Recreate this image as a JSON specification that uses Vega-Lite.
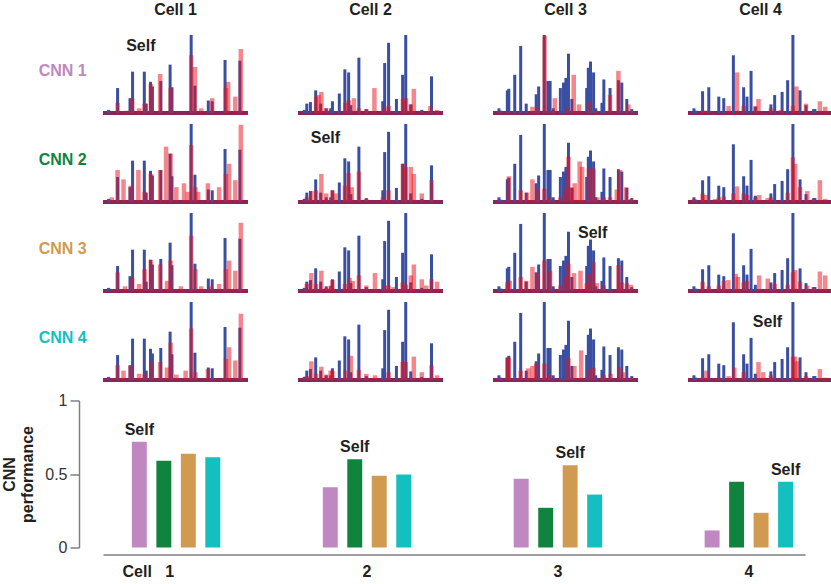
{
  "$schema": "https://vega.github.io/schema/vega-lite/v6.json",
  "background": "white",
  "padding": {"left": 1, "top": 2, "right": 0, "bottom": 5},
  "config": {"font": "Liberation Sans", "view": {"stroke": null}},
  "datasets": {
    "traces": [
      {"c":1,"r":[1],"s":"lab","lab":"CNN 1","k":1,"t":-15.8,"v":0.54},{"c":1,"r":[2],"s":"lab","lab":"CNN 2","k":2,"t":-15.8,"v":0.54},{"c":1,"r":[3],"s":"lab","lab":"CNN 3","k":3,"t":-15.8,"v":0.54},{"c":1,"r":[4],"s":"lab","lab":"CNN 4","k":4,"t":-15.8,"v":0.54},
      {"c":1,"r":[1,2,3,4],"s":"b","t":0.5,"v":0.04},{"c":1,"r":[1,2,3,4],"s":"b","t":7.1,"v":0.32},{"c":1,"r":[1,2,3,4],"s":"b","t":16.3,"v":0.19},{"c":1,"r":[1,2,3,4],"s":"b","t":18.2,"v":0.53},{"c":1,"r":[1,2,3,4],"s":"b","t":26.9,"v":0.53},{"c":1,"r":[1,2,3,4],"s":"b","t":28.3,"v":0.12},{"c":1,"r":[1,2,3,4],"s":"b","t":31.5,"v":0.40},{"c":1,"r":[1,2,3,4],"s":"b","t":32.9,"v":0.34},{"c":1,"r":[1,2,3,4],"s":"b","t":39.1,"v":0.41},{"c":1,"r":[1,2,3,4],"s":"b","t":46.0,"v":0.62},{"c":1,"r":[1,2,3,4],"s":"b","t":47.4,"v":0.33},{"c":1,"r":[1,2,3,4],"s":"b","t":61.6,"v":1.0},{"c":1,"r":[1,2,3,4],"s":"b","t":64.4,"v":0.35},{"c":1,"r":[1,2,3,4],"s":"b","t":74.3,"v":0.16},{"c":1,"r":[1,2,3,4],"s":"b","t":77.2,"v":0.15},{"c":1,"r":[1,2,3,4],"s":"b","t":86.7,"v":0.68},{"c":1,"r":[1,2,3,4],"s":"b","t":97.7,"v":0.67},
      {"c":2,"r":[1,2,3,4],"s":"b","t":0.9,"v":0.04},{"c":2,"r":[1,2,3,4],"s":"b","t":2.8,"v":0.12},{"c":2,"r":[1,2,3,4],"s":"b","t":5.5,"v":0.14},{"c":2,"r":[1,2,3,4],"s":"b","t":9.4,"v":0.29},{"c":2,"r":[1,2,3,4],"s":"b","t":13.1,"v":0.12},{"c":2,"r":[1,2,3,4],"s":"b","t":17.2,"v":0.06},{"c":2,"r":[1,2,3,4],"s":"b","t":20.5,"v":0.06},{"c":2,"r":[1,2,3,4],"s":"b","t":21.8,"v":0.15},{"c":2,"r":[1,2,3,4],"s":"b","t":26.9,"v":0.25},{"c":2,"r":[1,2,3,4],"s":"b","t":31.0,"v":0.56},{"c":2,"r":[1,2,3,4],"s":"b","t":33.8,"v":0.52},{"c":2,"r":[1,2,3,4],"s":"b","t":35.4,"v":0.10},{"c":2,"r":[1,2,3,4],"s":"b","t":41.4,"v":0.71},{"c":2,"r":[1,2,3,4],"s":"b","t":46.9,"v":0.05},{"c":2,"r":[1,2,3,4],"s":"b","t":59.1,"v":0.15},{"c":2,"r":[1,2,3,4],"s":"b","t":60.5,"v":0.64},{"c":2,"r":[1,2,3,4],"s":"b","t":63.4,"v":0.90},{"c":2,"r":[1,2,3,4],"s":"b","t":69.2,"v":0.18},{"c":2,"r":[1,2,3,4],"s":"b","t":73.8,"v":0.49},{"c":2,"r":[1,2,3,4],"s":"b","t":76.1,"v":1.0},{"c":2,"r":[1,2,3,4],"s":"b","t":79.8,"v":0.11},{"c":2,"r":[1,2,3,4],"s":"b","t":88.0,"v":0.04},{"c":2,"r":[1,2,3,4],"s":"b","t":95.2,"v":0.47},
      {"c":3,"r":[1,2,3,4],"s":"b","t":0.7,"v":0.06},{"c":3,"r":[1,2,3,4],"s":"b","t":2.1,"v":0.03},{"c":3,"r":[1,2,3,4],"s":"b","t":6.9,"v":0.29},{"c":3,"r":[1,2,3,4],"s":"b","t":8.0,"v":0.31},{"c":3,"r":[1,2,3,4],"s":"b","t":12.4,"v":0.49},{"c":3,"r":[1,2,3,4],"s":"b","t":16.8,"v":0.86},{"c":3,"r":[1,2,3,4],"s":"b","t":20.9,"v":0.12},{"c":3,"r":[1,2,3,4],"s":"b","t":28.3,"v":0.24},{"c":3,"r":[1,2,3,4],"s":"b","t":30.1,"v":0.34},{"c":3,"r":[1,2,3,4],"s":"b","t":34.3,"v":1.0},{"c":3,"r":[1,2,3,4],"s":"b","t":37.0,"v":0.41},{"c":3,"r":[1,2,3,4],"s":"b","t":38.6,"v":0.41},{"c":3,"r":[1,2,3,4],"s":"b","t":40.9,"v":0.06},{"c":3,"r":[1,2,3,4],"s":"b","t":46.2,"v":0.32},{"c":3,"r":[1,2,3,4],"s":"b","t":48.5,"v":0.39},{"c":3,"r":[1,2,3,4],"s":"b","t":50.3,"v":0.45},{"c":3,"r":[1,2,3,4],"s":"b","t":52.2,"v":0.76},{"c":3,"r":[1,2,3,4],"s":"b","t":54.7,"v":0.18},{"c":3,"r":[1,2,3,4],"s":"b","t":65.7,"v":0.32},{"c":3,"r":[1,2,3,4],"s":"b","t":66.9,"v":0.58},{"c":3,"r":[1,2,3,4],"s":"b","t":68.5,"v":0.66},{"c":3,"r":[1,2,3,4],"s":"b","t":70.8,"v":0.52},{"c":3,"r":[1,2,3,4],"s":"b","t":72.4,"v":0.06},{"c":3,"r":[1,2,3,4],"s":"b","t":77.0,"v":0.13},{"c":3,"r":[1,2,3,4],"s":"b","t":78.4,"v":0.43},{"c":3,"r":[1,2,3,4],"s":"b","t":83.0,"v":0.32},{"c":3,"r":[1,2,3,4],"s":"b","t":89.2,"v":0.42},{"c":3,"r":[1,2,3,4],"s":"b","t":91.7,"v":0.39},{"c":3,"r":[1,2,3,4],"s":"b","t":95.4,"v":0.18},{"c":3,"r":[1,2,3,4],"s":"b","t":99.1,"v":0.05},
      {"c":4,"r":[1,2,3,4],"s":"b","t":0.7,"v":0.06},{"c":4,"r":[1,2,3,4],"s":"b","t":2.1,"v":0.03},{"c":4,"r":[1,2,3,4],"s":"b","t":7.1,"v":0.28},{"c":4,"r":[1,2,3,4],"s":"b","t":11.7,"v":0.33},{"c":4,"r":[1,2,3,4],"s":"b","t":19.1,"v":0.21},{"c":4,"r":[1,2,3,4],"s":"b","t":22.8,"v":0.19},{"c":4,"r":[1,2,3,4],"s":"b","t":29.9,"v":0.74},{"c":4,"r":[1,2,3,4],"s":"b","t":37.5,"v":0.33},{"c":4,"r":[1,2,3,4],"s":"b","t":40.0,"v":0.21},{"c":4,"r":[1,2,3,4],"s":"b","t":43.0,"v":0.54},{"c":4,"r":[1,2,3,4],"s":"b","t":46.2,"v":0.08},{"c":4,"r":[1,2,3,4],"s":"b","t":57.7,"v":0.11},{"c":4,"r":[1,2,3,4],"s":"b","t":60.5,"v":0.23},{"c":4,"r":[1,2,3,4],"s":"b","t":66.0,"v":0.27},{"c":4,"r":[1,2,3,4],"s":"b","t":70.1,"v":0.42},{"c":4,"r":[1,2,3,4],"s":"b","t":74.0,"v":1.0},{"c":4,"r":[1,2,3,4],"s":"b","t":79.3,"v":0.29},{"c":4,"r":[1,2,3,4],"s":"b","t":83.7,"v":0.10},{"c":4,"r":[1,2,3,4],"s":"b","t":89.4,"v":0.05},{"c":4,"r":[1,2,3,4],"s":"b","t":90.3,"v":0.05},

      {"c":1,"r":[1],"s":"r","t":7.1,"v":0.13},{"c":1,"r":[1],"s":"r","t":13.8,"v":0.03},{"c":1,"r":[1],"s":"r","t":17.9,"v":0.19},{"c":1,"r":[1],"s":"r","t":23.0,"v":0.06},{"c":1,"r":[1],"s":"r","t":27.1,"v":0.12},{"c":1,"r":[1],"s":"r","t":31.7,"v":0.37},{"c":1,"r":[1],"s":"r","t":38.6,"v":0.50},{"c":1,"r":[1],"s":"r","t":46.4,"v":0.32},{"c":1,"r":[1],"s":"r","t":61.6,"v":0.74},{"c":1,"r":[1],"s":"r","t":64.4,"v":0.59},{"c":1,"r":[1],"s":"r","t":69.0,"v":0.06},{"c":1,"r":[1],"s":"r","t":77.2,"v":0.19},{"c":1,"r":[1],"s":"r","t":87.4,"v":0.32},{"c":1,"r":[1],"s":"r","t":89.0,"v":0.40},{"c":1,"r":[1],"s":"r","t":94.3,"v":0.21},{"c":1,"r":[1],"s":"r","t":98.4,"v":0.82},
      {"c":1,"r":[2],"s":"r","t":2.8,"v":0.06},{"c":1,"r":[2],"s":"r","t":7.1,"v":0.41},{"c":1,"r":[2],"s":"r","t":11.5,"v":0.29},{"c":1,"r":[2],"s":"r","t":16.8,"v":0.21},{"c":1,"r":[2],"s":"r","t":22.5,"v":0.41},{"c":1,"r":[2],"s":"r","t":27.1,"v":0.13},{"c":1,"r":[2],"s":"r","t":31.7,"v":0.36},{"c":1,"r":[2],"s":"r","t":38.6,"v":0.41},{"c":1,"r":[2],"s":"r","t":43.0,"v":0.71},{"c":1,"r":[2],"s":"r","t":46.4,"v":0.62},{"c":1,"r":[2],"s":"r","t":50.6,"v":0.19},{"c":1,"r":[2],"s":"r","t":56.3,"v":0.24},{"c":1,"r":[2],"s":"r","t":59.1,"v":0.13},{"c":1,"r":[2],"s":"r","t":61.6,"v":0.73},{"c":1,"r":[2],"s":"r","t":64.8,"v":0.19},{"c":1,"r":[2],"s":"r","t":66.7,"v":0.13},{"c":1,"r":[2],"s":"r","t":74.0,"v":0.24},{"c":1,"r":[2],"s":"r","t":82.3,"v":0.19},{"c":1,"r":[2],"s":"r","t":87.4,"v":0.36},{"c":1,"r":[2],"s":"r","t":89.7,"v":0.49},{"c":1,"r":[2],"s":"r","t":94.3,"v":0.28},{"c":1,"r":[2],"s":"r","t":98.4,"v":0.99},
      {"c":1,"r":[3],"s":"r","t":7.1,"v":0.24},{"c":1,"r":[3],"s":"r","t":12.6,"v":0.06},{"c":1,"r":[3],"s":"r","t":17.9,"v":0.17},{"c":1,"r":[3],"s":"r","t":23.0,"v":0.09},{"c":1,"r":[3],"s":"r","t":27.1,"v":0.28},{"c":1,"r":[3],"s":"r","t":31.7,"v":0.40},{"c":1,"r":[3],"s":"r","t":38.6,"v":0.34},{"c":1,"r":[3],"s":"r","t":43.7,"v":0.13},{"c":1,"r":[3],"s":"r","t":46.4,"v":0.39},{"c":1,"r":[3],"s":"r","t":54.0,"v":0.06},{"c":1,"r":[3],"s":"r","t":61.6,"v":0.71},{"c":1,"r":[3],"s":"r","t":64.8,"v":0.28},{"c":1,"r":[3],"s":"r","t":69.0,"v":0.06},{"c":1,"r":[3],"s":"r","t":75.9,"v":0.06},{"c":1,"r":[3],"s":"r","t":82.3,"v":0.09},{"c":1,"r":[3],"s":"r","t":87.4,"v":0.28},{"c":1,"r":[3],"s":"r","t":89.7,"v":0.39},{"c":1,"r":[3],"s":"r","t":94.3,"v":0.26},{"c":1,"r":[3],"s":"r","t":98.4,"v":0.875},
      {"c":1,"r":[4],"s":"r","t":7.1,"v":0.19},{"c":1,"r":[4],"s":"r","t":11.5,"v":0.12},{"c":1,"r":[4],"s":"r","t":16.8,"v":0.18},{"c":1,"r":[4],"s":"r","t":23.0,"v":0.08},{"c":1,"r":[4],"s":"r","t":27.1,"v":0.08},{"c":1,"r":[4],"s":"r","t":32.2,"v":0.23},{"c":1,"r":[4],"s":"r","t":38.6,"v":0.23},{"c":1,"r":[4],"s":"r","t":43.7,"v":0.16},{"c":1,"r":[4],"s":"r","t":46.4,"v":0.48},{"c":1,"r":[4],"s":"r","t":50.6,"v":0.07},{"c":1,"r":[4],"s":"r","t":57.5,"v":0.12},{"c":1,"r":[4],"s":"r","t":61.6,"v":0.66},{"c":1,"r":[4],"s":"r","t":64.8,"v":0.10},{"c":1,"r":[4],"s":"r","t":74.0,"v":0.14},{"c":1,"r":[4],"s":"r","t":87.4,"v":0.27},{"c":1,"r":[4],"s":"r","t":89.7,"v":0.42},{"c":1,"r":[4],"s":"r","t":94.3,"v":0.25},{"c":1,"r":[4],"s":"r","t":98.4,"v":0.85},

      {"c":2,"r":[1],"s":"r","t":9.7,"v":0.21},{"c":2,"r":[1],"s":"r","t":11.5,"v":0.23},{"c":2,"r":[1],"s":"r","t":13.6,"v":0.27},{"c":2,"r":[1],"s":"r","t":17.2,"v":0.06},{"c":2,"r":[1],"s":"r","t":31.5,"v":0.13},{"c":2,"r":[1],"s":"r","t":33.8,"v":0.16},{"c":2,"r":[1],"s":"r","t":37.7,"v":0.19},{"c":2,"r":[1],"s":"r","t":41.4,"v":0.06},{"c":2,"r":[1],"s":"r","t":46.9,"v":0.05},{"c":2,"r":[1],"s":"r","t":52.9,"v":0.32},{"c":2,"r":[1],"s":"r","t":60.2,"v":0.06},{"c":2,"r":[1],"s":"r","t":63.4,"v":0.09},{"c":2,"r":[1],"s":"r","t":74.0,"v":0.18},{"c":2,"r":[1],"s":"r","t":76.3,"v":0.19},{"c":2,"r":[1],"s":"r","t":79.8,"v":0.11},{"c":2,"r":[1],"s":"r","t":82.1,"v":0.31},{"c":2,"r":[1],"s":"r","t":88.0,"v":0.03},{"c":2,"r":[1],"s":"r","t":94.3,"v":0.09},{"c":2,"r":[1],"s":"r","t":99.3,"v":0.04},
      {"c":2,"r":[2],"s":"r","t":2.8,"v":0.06},{"c":2,"r":[2],"s":"r","t":6.2,"v":0.14},{"c":2,"r":[2],"s":"r","t":9.7,"v":0.15},{"c":2,"r":[2],"s":"r","t":13.6,"v":0.36},{"c":2,"r":[2],"s":"r","t":17.2,"v":0.11},{"c":2,"r":[2],"s":"r","t":21.8,"v":0.15},{"c":2,"r":[2],"s":"r","t":24.1,"v":0.11},{"c":2,"r":[2],"s":"r","t":31.0,"v":0.21},{"c":2,"r":[2],"s":"r","t":33.8,"v":0.37},{"c":2,"r":[2],"s":"r","t":36.1,"v":0.19},{"c":2,"r":[2],"s":"r","t":41.4,"v":0.39},{"c":2,"r":[2],"s":"r","t":46.9,"v":0.04},{"c":2,"r":[2],"s":"r","t":59.1,"v":0.06},{"c":2,"r":[2],"s":"r","t":63.4,"v":0.15},{"c":2,"r":[2],"s":"r","t":74.0,"v":0.49},{"c":2,"r":[2],"s":"r","t":76.1,"v":0.45},{"c":2,"r":[2],"s":"r","t":79.8,"v":0.45},{"c":2,"r":[2],"s":"r","t":82.1,"v":0.36},{"c":2,"r":[2],"s":"r","t":88.0,"v":0.11},{"c":2,"r":[2],"s":"r","t":95.2,"v":0.28},
      {"c":2,"r":[3],"s":"r","t":2.8,"v":0.09},{"c":2,"r":[3],"s":"r","t":6.2,"v":0.23},{"c":2,"r":[3],"s":"r","t":9.7,"v":0.09},{"c":2,"r":[3],"s":"r","t":13.6,"v":0.26},{"c":2,"r":[3],"s":"r","t":17.2,"v":0.04},{"c":2,"r":[3],"s":"r","t":20.5,"v":0.07},{"c":2,"r":[3],"s":"r","t":21.8,"v":0.14},{"c":2,"r":[3],"s":"r","t":31.0,"v":0.09},{"c":2,"r":[3],"s":"r","t":34.5,"v":0.17},{"c":2,"r":[3],"s":"r","t":36.8,"v":0.13},{"c":2,"r":[3],"s":"r","t":41.4,"v":0.20},{"c":2,"r":[3],"s":"r","t":46.9,"v":0.07},{"c":2,"r":[3],"s":"r","t":53.3,"v":0.23},{"c":2,"r":[3],"s":"r","t":60.5,"v":0.07},{"c":2,"r":[3],"s":"r","t":63.4,"v":0.07},{"c":2,"r":[3],"s":"r","t":67.1,"v":0.05},{"c":2,"r":[3],"s":"r","t":73.8,"v":0.11},{"c":2,"r":[3],"s":"r","t":76.1,"v":0.08},{"c":2,"r":[3],"s":"r","t":79.8,"v":0.20},{"c":2,"r":[3],"s":"r","t":82.1,"v":0.34},{"c":2,"r":[3],"s":"r","t":88.0,"v":0.15},{"c":2,"r":[3],"s":"r","t":91.3,"v":0.07},{"c":2,"r":[3],"s":"r","t":95.2,"v":0.15},{"c":2,"r":[3],"s":"r","t":99.3,"v":0.12},
      {"c":2,"r":[4],"s":"r","t":2.8,"v":0.05},{"c":2,"r":[4],"s":"r","t":6.2,"v":0.24},{"c":2,"r":[4],"s":"r","t":9.7,"v":0.08},{"c":2,"r":[4],"s":"r","t":13.6,"v":0.17},{"c":2,"r":[4],"s":"r","t":17.2,"v":0.07},{"c":2,"r":[4],"s":"r","t":20.5,"v":0.12},{"c":2,"r":[4],"s":"r","t":21.8,"v":0.12},{"c":2,"r":[4],"s":"r","t":31.5,"v":0.12},{"c":2,"r":[4],"s":"r","t":35.4,"v":0.31},{"c":2,"r":[4],"s":"r","t":41.4,"v":0.13},{"c":2,"r":[4],"s":"r","t":46.9,"v":0.08},{"c":2,"r":[4],"s":"r","t":53.3,"v":0.06},{"c":2,"r":[4],"s":"r","t":63.4,"v":0.10},{"c":2,"r":[4],"s":"r","t":73.8,"v":0.23},{"c":2,"r":[4],"s":"r","t":76.1,"v":0.23},{"c":2,"r":[4],"s":"r","t":82.1,"v":0.30},{"c":2,"r":[4],"s":"r","t":88.0,"v":0.10},{"c":2,"r":[4],"s":"r","t":95.2,"v":0.19},{"c":2,"r":[4],"s":"r","t":99.3,"v":0.06},

      {"c":3,"r":[1],"s":"r","t":0.7,"v":0.02},{"c":3,"r":[1],"s":"r","t":6.9,"v":0.02},{"c":3,"r":[1],"s":"r","t":25.5,"v":0.08},{"c":3,"r":[1],"s":"r","t":29.4,"v":0.07},{"c":3,"r":[1],"s":"r","t":34.5,"v":0.99},{"c":3,"r":[1],"s":"r","t":38.6,"v":0.03},{"c":3,"r":[1],"s":"r","t":42.1,"v":0.19},{"c":3,"r":[1],"s":"r","t":51.7,"v":0.06},{"c":3,"r":[1],"s":"r","t":56.1,"v":0.49},{"c":3,"r":[1],"s":"r","t":60.0,"v":0.11},{"c":3,"r":[1],"s":"r","t":68.0,"v":0.14},{"c":3,"r":[1],"s":"r","t":72.0,"v":0.03},{"c":3,"r":[1],"s":"r","t":83.0,"v":0.23},{"c":3,"r":[1],"s":"r","t":89.2,"v":0.54},{"c":3,"r":[1],"s":"r","t":96.6,"v":0.11},
      {"c":3,"r":[2],"s":"r","t":8.0,"v":0.33},{"c":3,"r":[2],"s":"r","t":16.8,"v":0.15},{"c":3,"r":[2],"s":"r","t":21.4,"v":0.12},{"c":3,"r":[2],"s":"r","t":25.5,"v":0.29},{"c":3,"r":[2],"s":"r","t":29.4,"v":0.17},{"c":3,"r":[2],"s":"r","t":34.3,"v":0.17},{"c":3,"r":[2],"s":"r","t":38.6,"v":0.06},{"c":3,"r":[2],"s":"r","t":46.2,"v":0.06},{"c":3,"r":[2],"s":"r","t":50.1,"v":0.17},{"c":3,"r":[2],"s":"r","t":52.2,"v":0.58},{"c":3,"r":[2],"s":"r","t":54.7,"v":0.19},{"c":3,"r":[2],"s":"r","t":56.8,"v":0.24},{"c":3,"r":[2],"s":"r","t":60.5,"v":0.52},{"c":3,"r":[2],"s":"r","t":62.3,"v":0.45},{"c":3,"r":[2],"s":"r","t":67.4,"v":0.43},{"c":3,"r":[2],"s":"r","t":70.8,"v":0.43},{"c":3,"r":[2],"s":"r","t":73.6,"v":0.06},{"c":3,"r":[2],"s":"r","t":78.4,"v":0.06},{"c":3,"r":[2],"s":"r","t":83.0,"v":0.06},{"c":3,"r":[2],"s":"r","t":88.0,"v":0.16},{"c":3,"r":[2],"s":"r","t":90.3,"v":0.41},{"c":3,"r":[2],"s":"r","t":94.9,"v":0.19},{"c":3,"r":[2],"s":"r","t":98.4,"v":0.04},
      {"c":3,"r":[3],"s":"r","t":6.9,"v":0.11},{"c":3,"r":[3],"s":"r","t":8.7,"v":0.13},{"c":3,"r":[3],"s":"r","t":16.8,"v":0.18},{"c":3,"r":[3],"s":"r","t":20.9,"v":0.13},{"c":3,"r":[3],"s":"r","t":25.5,"v":0.31},{"c":3,"r":[3],"s":"r","t":29.4,"v":0.23},{"c":3,"r":[3],"s":"r","t":34.3,"v":0.39},{"c":3,"r":[3],"s":"r","t":38.6,"v":0.26},{"c":3,"r":[3],"s":"r","t":46.2,"v":0.07},{"c":3,"r":[3],"s":"r","t":50.1,"v":0.18},{"c":3,"r":[3],"s":"r","t":52.2,"v":0.35},{"c":3,"r":[3],"s":"r","t":56.3,"v":0.23},{"c":3,"r":[3],"s":"r","t":61.1,"v":0.26},{"c":3,"r":[3],"s":"r","t":65.7,"v":0.10},{"c":3,"r":[3],"s":"r","t":67.4,"v":0.22},{"c":3,"r":[3],"s":"r","t":70.8,"v":0.37},{"c":3,"r":[3],"s":"r","t":73.1,"v":0.10},{"c":3,"r":[3],"s":"r","t":78.4,"v":0.07},{"c":3,"r":[3],"s":"r","t":89.2,"v":0.33},{"c":3,"r":[3],"s":"r","t":91.7,"v":0.11},{"c":3,"r":[3],"s":"r","t":95.4,"v":0.10},{"c":3,"r":[3],"s":"r","t":98.4,"v":0.08},
      {"c":3,"r":[4],"s":"r","t":6.9,"v":0.28},{"c":3,"r":[4],"s":"r","t":8.0,"v":0.29},{"c":3,"r":[4],"s":"r","t":16.8,"v":0.12},{"c":3,"r":[4],"s":"r","t":22.5,"v":0.15},{"c":3,"r":[4],"s":"r","t":25.5,"v":0.18},{"c":3,"r":[4],"s":"r","t":28.3,"v":0.21},{"c":3,"r":[4],"s":"r","t":34.3,"v":0.21},{"c":3,"r":[4],"s":"r","t":38.6,"v":0.06},{"c":3,"r":[4],"s":"r","t":52.2,"v":0.28},{"c":3,"r":[4],"s":"r","t":56.6,"v":0.18},{"c":3,"r":[4],"s":"r","t":61.6,"v":0.38},{"c":3,"r":[4],"s":"r","t":67.4,"v":0.14},{"c":3,"r":[4],"s":"r","t":70.8,"v":0.16},{"c":3,"r":[4],"s":"r","t":78.4,"v":0.06},{"c":3,"r":[4],"s":"r","t":83.4,"v":0.08},{"c":3,"r":[4],"s":"r","t":90.3,"v":0.16},{"c":3,"r":[4],"s":"r","t":92.6,"v":0.10},{"c":3,"r":[4],"s":"r","t":98.4,"v":0.03},

      {"c":4,"r":[1],"s":"r","t":7.1,"v":0.03},{"c":4,"r":[1],"s":"r","t":9.9,"v":0.03},{"c":4,"r":[1],"s":"r","t":26.4,"v":0.09},{"c":4,"r":[1],"s":"r","t":32.6,"v":0.52},{"c":4,"r":[1],"s":"r","t":37.5,"v":0.09},{"c":4,"r":[1],"s":"r","t":46.2,"v":0.09},{"c":4,"r":[1],"s":"r","t":48.5,"v":0.18},{"c":4,"r":[1],"s":"r","t":57.7,"v":0.06},{"c":4,"r":[1],"s":"r","t":65.1,"v":0.04},{"c":4,"r":[1],"s":"r","t":74.0,"v":0.09},{"c":4,"r":[1],"s":"r","t":76.6,"v":0.34},{"c":4,"r":[1],"s":"r","t":83.7,"v":0.12},{"c":4,"r":[1],"s":"r","t":94.0,"v":0.15},{"c":4,"r":[1],"s":"r","t":97.9,"v":0.08},
      {"c":4,"r":[2],"s":"r","t":0.7,"v":0.04},{"c":4,"r":[2],"s":"r","t":7.1,"v":0.11},{"c":4,"r":[2],"s":"r","t":9.9,"v":0.09},{"c":4,"r":[2],"s":"r","t":16.3,"v":0.04},{"c":4,"r":[2],"s":"r","t":19.1,"v":0.06},{"c":4,"r":[2],"s":"r","t":22.8,"v":0.07},{"c":4,"r":[2],"s":"r","t":29.9,"v":0.11},{"c":4,"r":[2],"s":"r","t":32.6,"v":0.20},{"c":4,"r":[2],"s":"r","t":37.5,"v":0.11},{"c":4,"r":[2],"s":"r","t":40.0,"v":0.09},{"c":4,"r":[2],"s":"r","t":46.2,"v":0.06},{"c":4,"r":[2],"s":"r","t":49.0,"v":0.09},{"c":4,"r":[2],"s":"r","t":55.2,"v":0.05},{"c":4,"r":[2],"s":"r","t":57.7,"v":0.06},{"c":4,"r":[2],"s":"r","t":70.1,"v":0.12},{"c":4,"r":[2],"s":"r","t":74.0,"v":0.57},{"c":4,"r":[2],"s":"r","t":75.6,"v":0.49},{"c":4,"r":[2],"s":"r","t":79.3,"v":0.19},{"c":4,"r":[2],"s":"r","t":84.6,"v":0.14},{"c":4,"r":[2],"s":"r","t":89.4,"v":0.04},{"c":4,"r":[2],"s":"r","t":94.0,"v":0.28},{"c":4,"r":[2],"s":"r","t":97.9,"v":0.04},
      {"c":4,"r":[3],"s":"r","t":7.1,"v":0.12},{"c":4,"r":[3],"s":"r","t":11.7,"v":0.06},{"c":4,"r":[3],"s":"r","t":19.1,"v":0.07},{"c":4,"r":[3],"s":"r","t":22.8,"v":0.13},{"c":4,"r":[3],"s":"r","t":26.2,"v":0.14},{"c":4,"r":[3],"s":"r","t":31.7,"v":0.22},{"c":4,"r":[3],"s":"r","t":33.3,"v":0.18},{"c":4,"r":[3],"s":"r","t":37.5,"v":0.11},{"c":4,"r":[3],"s":"r","t":40.0,"v":0.13},{"c":4,"r":[3],"s":"r","t":49.0,"v":0.20},{"c":4,"r":[3],"s":"r","t":55.4,"v":0.16},{"c":4,"r":[3],"s":"r","t":60.5,"v":0.09},{"c":4,"r":[3],"s":"r","t":70.1,"v":0.08},{"c":4,"r":[3],"s":"r","t":74.0,"v":0.24},{"c":4,"r":[3],"s":"r","t":75.6,"v":0.27},{"c":4,"r":[3],"s":"r","t":79.3,"v":0.12},{"c":4,"r":[3],"s":"r","t":84.6,"v":0.07},{"c":4,"r":[3],"s":"r","t":89.4,"v":0.05},{"c":4,"r":[3],"s":"r","t":94.0,"v":0.25},{"c":4,"r":[3],"s":"r","t":97.9,"v":0.20},
      {"c":4,"r":[4],"s":"r","t":7.1,"v":0.03},{"c":4,"r":[4],"s":"r","t":9.9,"v":0.12},{"c":4,"r":[4],"s":"r","t":19.1,"v":0.03},{"c":4,"r":[4],"s":"r","t":26.4,"v":0.05},{"c":4,"r":[4],"s":"r","t":30.6,"v":0.16},{"c":4,"r":[4],"s":"r","t":37.5,"v":0.10},{"c":4,"r":[4],"s":"r","t":48.5,"v":0.23},{"c":4,"r":[4],"s":"r","t":52.0,"v":0.10},{"c":4,"r":[4],"s":"r","t":57.7,"v":0.06},{"c":4,"r":[4],"s":"r","t":74.0,"v":0.30},{"c":4,"r":[4],"s":"r","t":75.6,"v":0.30},{"c":4,"r":[4],"s":"r","t":77.0,"v":0.24},{"c":4,"r":[4],"s":"r","t":83.7,"v":0.05},{"c":4,"r":[4],"s":"r","t":94.0,"v":0.14},{"c":4,"r":[4],"s":"r","t":97.9,"v":0.03},

      {"c":1,"r":[1],"s":"self","t":24.3,"v":0.80},
      {"c":2,"r":[2],"s":"self","t":16.6,"v":0.756},
      {"c":3,"r":[3],"s":"self","t":70.1,"v":0.675},
      {"c":4,"r":[4],"s":"self","t":55.2,"v":0.676}
    ],
    "perf": [
      {"c":1,"k":1,"v":0.72,"self":true},{"c":1,"k":2,"v":0.59,"self":false},{"c":1,"k":3,"v":0.637,"self":false},{"c":1,"k":4,"v":0.614,"self":false},
      {"c":2,"k":1,"v":0.41,"self":false},{"c":2,"k":2,"v":0.60,"self":true},{"c":2,"k":3,"v":0.488,"self":false},{"c":2,"k":4,"v":0.497,"self":false},
      {"c":3,"k":1,"v":0.467,"self":false},{"c":3,"k":2,"v":0.27,"self":false},{"c":3,"k":3,"v":0.56,"self":true},{"c":3,"k":4,"v":0.36,"self":false},
      {"c":4,"k":1,"v":0.116,"self":false},{"c":4,"k":2,"v":0.447,"self":false},{"c":4,"k":3,"v":0.236,"self":false},{"c":4,"k":4,"v":0.447,"self":true}
    ]
  },
  "spacing": 10.5,
  "vconcat": [
    {
      "data": {"name": "traces"},
      "transform": [{"flatten": ["r"]}],
      "facet": {
        "row": {"field": "r", "type": "ordinal", "header": {"labels": false, "title": null}},
        "column": {"field": "c", "type": "ordinal", "header": {
          "title": null, "labelPadding": 17, "labelFontSize": 16, "labelFontWeight": "bold", "labelColor": "#231f20",
          "labelExpr": "'Cell ' + datum.value"
        }}
      },
      "align": "each",
      "spacing": {"row": 9, "column": 46},
      "spec": {
        "width": 145,
        "height": 78,
        "layer": [
          {"mark": {"type": "rule", "color": "#8a2557", "strokeWidth": 2.5}, "encoding": {"y": {"datum": 0, "type": "quantitative", "scale": {"domain": [0, 1]}, "axis": null}}},
          {"transform": [{"filter": "datum.s == 'b'"}],
           "mark": {"type": "bar", "orient": "vertical", "size": 3, "color": "#3a4ea2"},
           "encoding": {
             "x": {"field": "t", "type": "quantitative", "scale": {"domain": [0, 100], "nice": false, "zero": false}, "axis": null},
             "y": {"field": "v", "type": "quantitative", "axis": null}
           }},
          {"transform": [{"filter": "datum.s == 'r'"}],
           "mark": {"type": "bar", "orient": "vertical", "size": 4.5, "color": "#e8101c", "opacity": 0.5},
           "encoding": {
             "x": {"field": "t", "type": "quantitative", "axis": null},
             "y": {"field": "v", "type": "quantitative", "axis": null}
           }},
          {"transform": [{"filter": "datum.s == 'self'"}],
           "mark": {"type": "text", "fontSize": 16, "fontWeight": "bold", "color": "#231f20", "align": "center", "baseline": "alphabetic"},
           "encoding": {
             "x": {"field": "t", "type": "quantitative", "axis": null},
             "y": {"field": "v", "type": "quantitative", "axis": null},
             "text": {"value": "Self"}
           }},
          {"transform": [{"filter": "datum.s == 'lab'"}],
           "mark": {"type": "text", "fontSize": 16, "fontWeight": "bold", "align": "right", "baseline": "middle"},
           "encoding": {
             "x": {"field": "t", "type": "quantitative", "axis": null},
             "y": {"field": "v", "type": "quantitative", "axis": null},
             "text": {"field": "lab"},
             "color": {"field": "k", "type": "nominal", "scale": {"domain": [1, 2, 3, 4], "range": ["#c088c0", "#10843f", "#d09b50", "#13bfbf"]}, "legend": null}
           }}
        ]
      }
    },
    {
      "data": {"name": "perf"},
      "width": 702,
      "height": 147,
      "layer": [
        {"mark": {"type": "bar"},
         "encoding": {
           "x": {"field": "c", "type": "nominal", "scale": {"paddingInner": 0.487, "paddingOuter": 0.082, "align": 0.77},
             "axis": {"title": null, "ticks": false, "domainColor": "#7f7f7f", "domainWidth": 1.5, "offset": 7, "labelAngle": 0,
               "labelFontSize": 16, "labelFontWeight": "bold", "labelColor": "#231f20", "labelPadding": 9,
               "labelExpr": "datum.value == 1 ? '' : datum.label"}},
           "xOffset": {"field": "k", "type": "nominal", "scale": {"paddingInner": 0.39, "paddingOuter": 0.195}},
           "y": {"field": "v", "type": "quantitative", "scale": {"domain": [0, 1]},
             "axis": {"values": [0, 0.5, 1], "format": "~g", "offset": 24, "grid": false, "domainColor": "#7f7f7f", "domainWidth": 1.5,
               "tickColor": "#7f7f7f", "tickWidth": 1.5, "tickSize": 9, "labelPadding": 3, "labelFontSize": 16, "labelColor": "#333333",
               "title": ["CNN", "performance"], "titleFontSize": 16, "titleFontWeight": "bold", "titleColor": "#231f20",
               "titleLineHeight": 18.5, "titlePadding": 9}},
           "color": {"field": "k", "type": "nominal", "scale": {"domain": [1, 2, 3, 4], "range": ["#c088c0", "#10843f", "#d09b50", "#13bfbf"]}, "legend": null}
         }},
        {"transform": [{"filter": "datum.self"}],
         "mark": {"type": "text", "fontSize": 16, "fontWeight": "bold", "color": "#231f20", "dy": -7, "baseline": "alphabetic"},
         "encoding": {
           "x": {"field": "c", "type": "nominal"},
           "xOffset": {"field": "k", "type": "nominal"},
           "y": {"field": "v", "type": "quantitative"},
           "text": {"value": "Self"}
         }},
        {"transform": [{"filter": "datum.c == 1 && datum.k == 1"}],
         "mark": {"type": "text", "fontSize": 16, "fontWeight": "bold", "color": "#231f20", "align": "right", "baseline": "alphabetic", "dx": -2, "dy": 29},
         "encoding": {
           "x": {"field": "c", "type": "nominal"},
           "y": {"datum": 0, "type": "quantitative"},
           "text": {"value": "Cell\u00a0\u00a0\u00a01"}
         }}
      ]
    }
  ]
}
